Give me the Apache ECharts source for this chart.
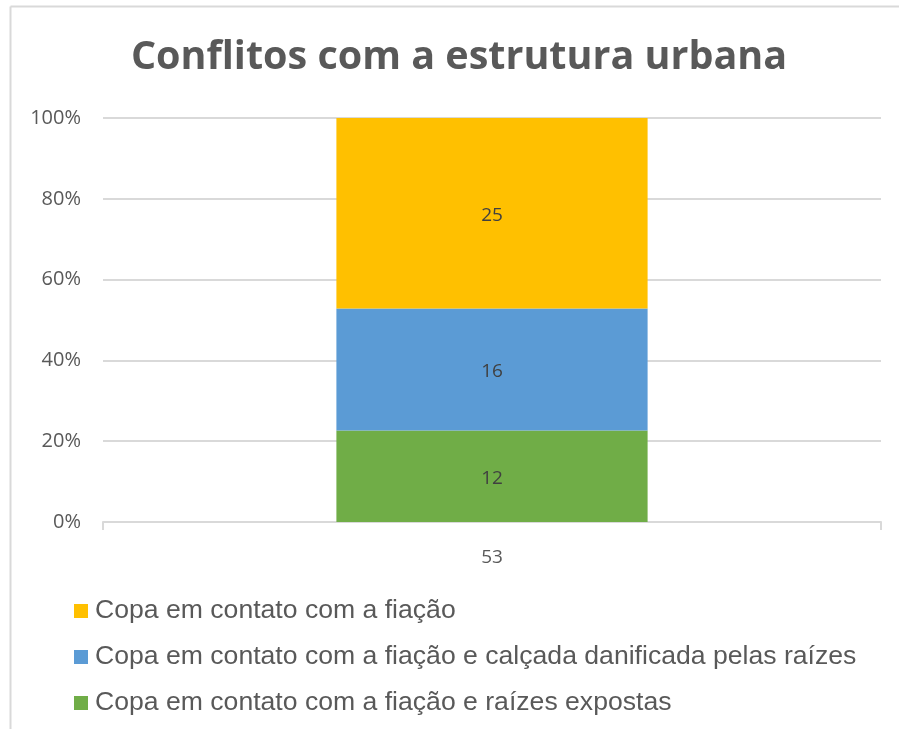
<!DOCTYPE html>
<html>
<head>
<meta charset="utf-8">
<script src="https://cdn.jsdelivr.net/npm/echarts@6/dist/echarts.min.js"></script>
<style>
  html, body { margin: 0; padding: 0; background: #fff; }
  #chart { width: 899px; height: 729px; }
</style>
</head>
<body>
<div id="chart"></div>
<script>
// data
var categories = ["53"];
var seriesNames = [
  "Copa em contato com a fiação e raízes expostas",
  "Copa em contato com a fiação e calçada danificada pelas raízes",
  "Copa em contato com a fiação"
];
var raizes = [12];
var calcada = [16];
var fiacao = [25];
var colors = ["#70AD47", "#5B9BD5", "#FFC000"];
var legendOrder = [seriesNames[2], seriesNames[1], seriesNames[0]];

var totals = categories.map(function (c, i) {
  return raizes[i] + calcada[i] + fiacao[i];
});

function toPct(arr) {
  return arr.map(function (v, i) {
    return { value: (v / totals[i]) * 100, raw: v };
  });
}

var chart = echarts.init(document.getElementById("chart"));

var seriesData = [raizes, calcada, fiacao];
var series = seriesData.map(function (arr, k) {
  return {
    name: seriesNames[k],
    type: "bar",
    stack: "total",
    barWidth: "40%",
    itemStyle: { color: colors[k] },
    label: {
      show: true,
      position: "inside",
      color: "#404040",
      fontSize: 19,
      fontFamily: "Open Sans",
      offset: [0, 2],
      formatter: function (p) { return p.data.raw; }
    },
    data: toPct(arr)
  };
});

// chart frame (only left and top edges are visible in the crop)
var frame = { color: "#d9d9d9", width: 2 };

var option = {
  animation: false,
  graphic: [
    {
      type: "line",
      shape: { x1: 10.5, y1: 6.5, x2: 899, y2: 6.5 },
      style: { stroke: frame.color, lineWidth: frame.width },
      silent: true
    },
    {
      type: "line",
      shape: { x1: 10.5, y1: 6.5, x2: 10.5, y2: 729 },
      style: { stroke: frame.color, lineWidth: frame.width },
      silent: true
    }
  ],
  title: {
    text: "Conflitos com a estrutura urbana",
    left: 454,
    textAlign: "center",
    top: 33,
    textStyle: {
      fontFamily: "Open Sans",
      fontWeight: "bold",
      fontSize: 39.5,
      color: "#595959"
    }
  },
  legend: {
    orient: "vertical",
    left: 69,
    top: 591,
    padding: 5,
    icon: "rect",
    itemWidth: 14,
    itemHeight: 14,
    itemGap: 16,
    data: legendOrder,
    textStyle: {
      fontFamily: "Liberation Sans",
      fontSize: 26.6,
      lineHeight: 30,
      color: "#595959",
      padding: [0, 0, 0, 2]
    }
  },
  grid: {
    left: 103,
    right: 18,
    top: 118,
    bottom: 207
  },
  xAxis: {
    type: "category",
    data: categories,
    axisLine: { lineStyle: { color: "#d9d9d9", width: 2 } },
    axisTick: { show: true, length: 8, lineStyle: { color: "#d9d9d9", width: 2 } },
    axisLabel: {
      color: "#595959",
      fontSize: 19,
      fontFamily: "Open Sans",
      margin: 26
    }
  },
  yAxis: {
    type: "value",
    min: 0,
    max: 100,
    interval: 20,
    axisLine: { show: false },
    axisTick: { show: false },
    splitLine: { lineStyle: { color: "#d9d9d9", width: 2 } },
    axisLabel: {
      formatter: "{value}%",
      color: "#595959",
      fontSize: 20,
      fontFamily: "Open Sans",
      margin: 22
    }
  },
  series: series
};

chart.setOption(option);
</script>
</body>
</html>
